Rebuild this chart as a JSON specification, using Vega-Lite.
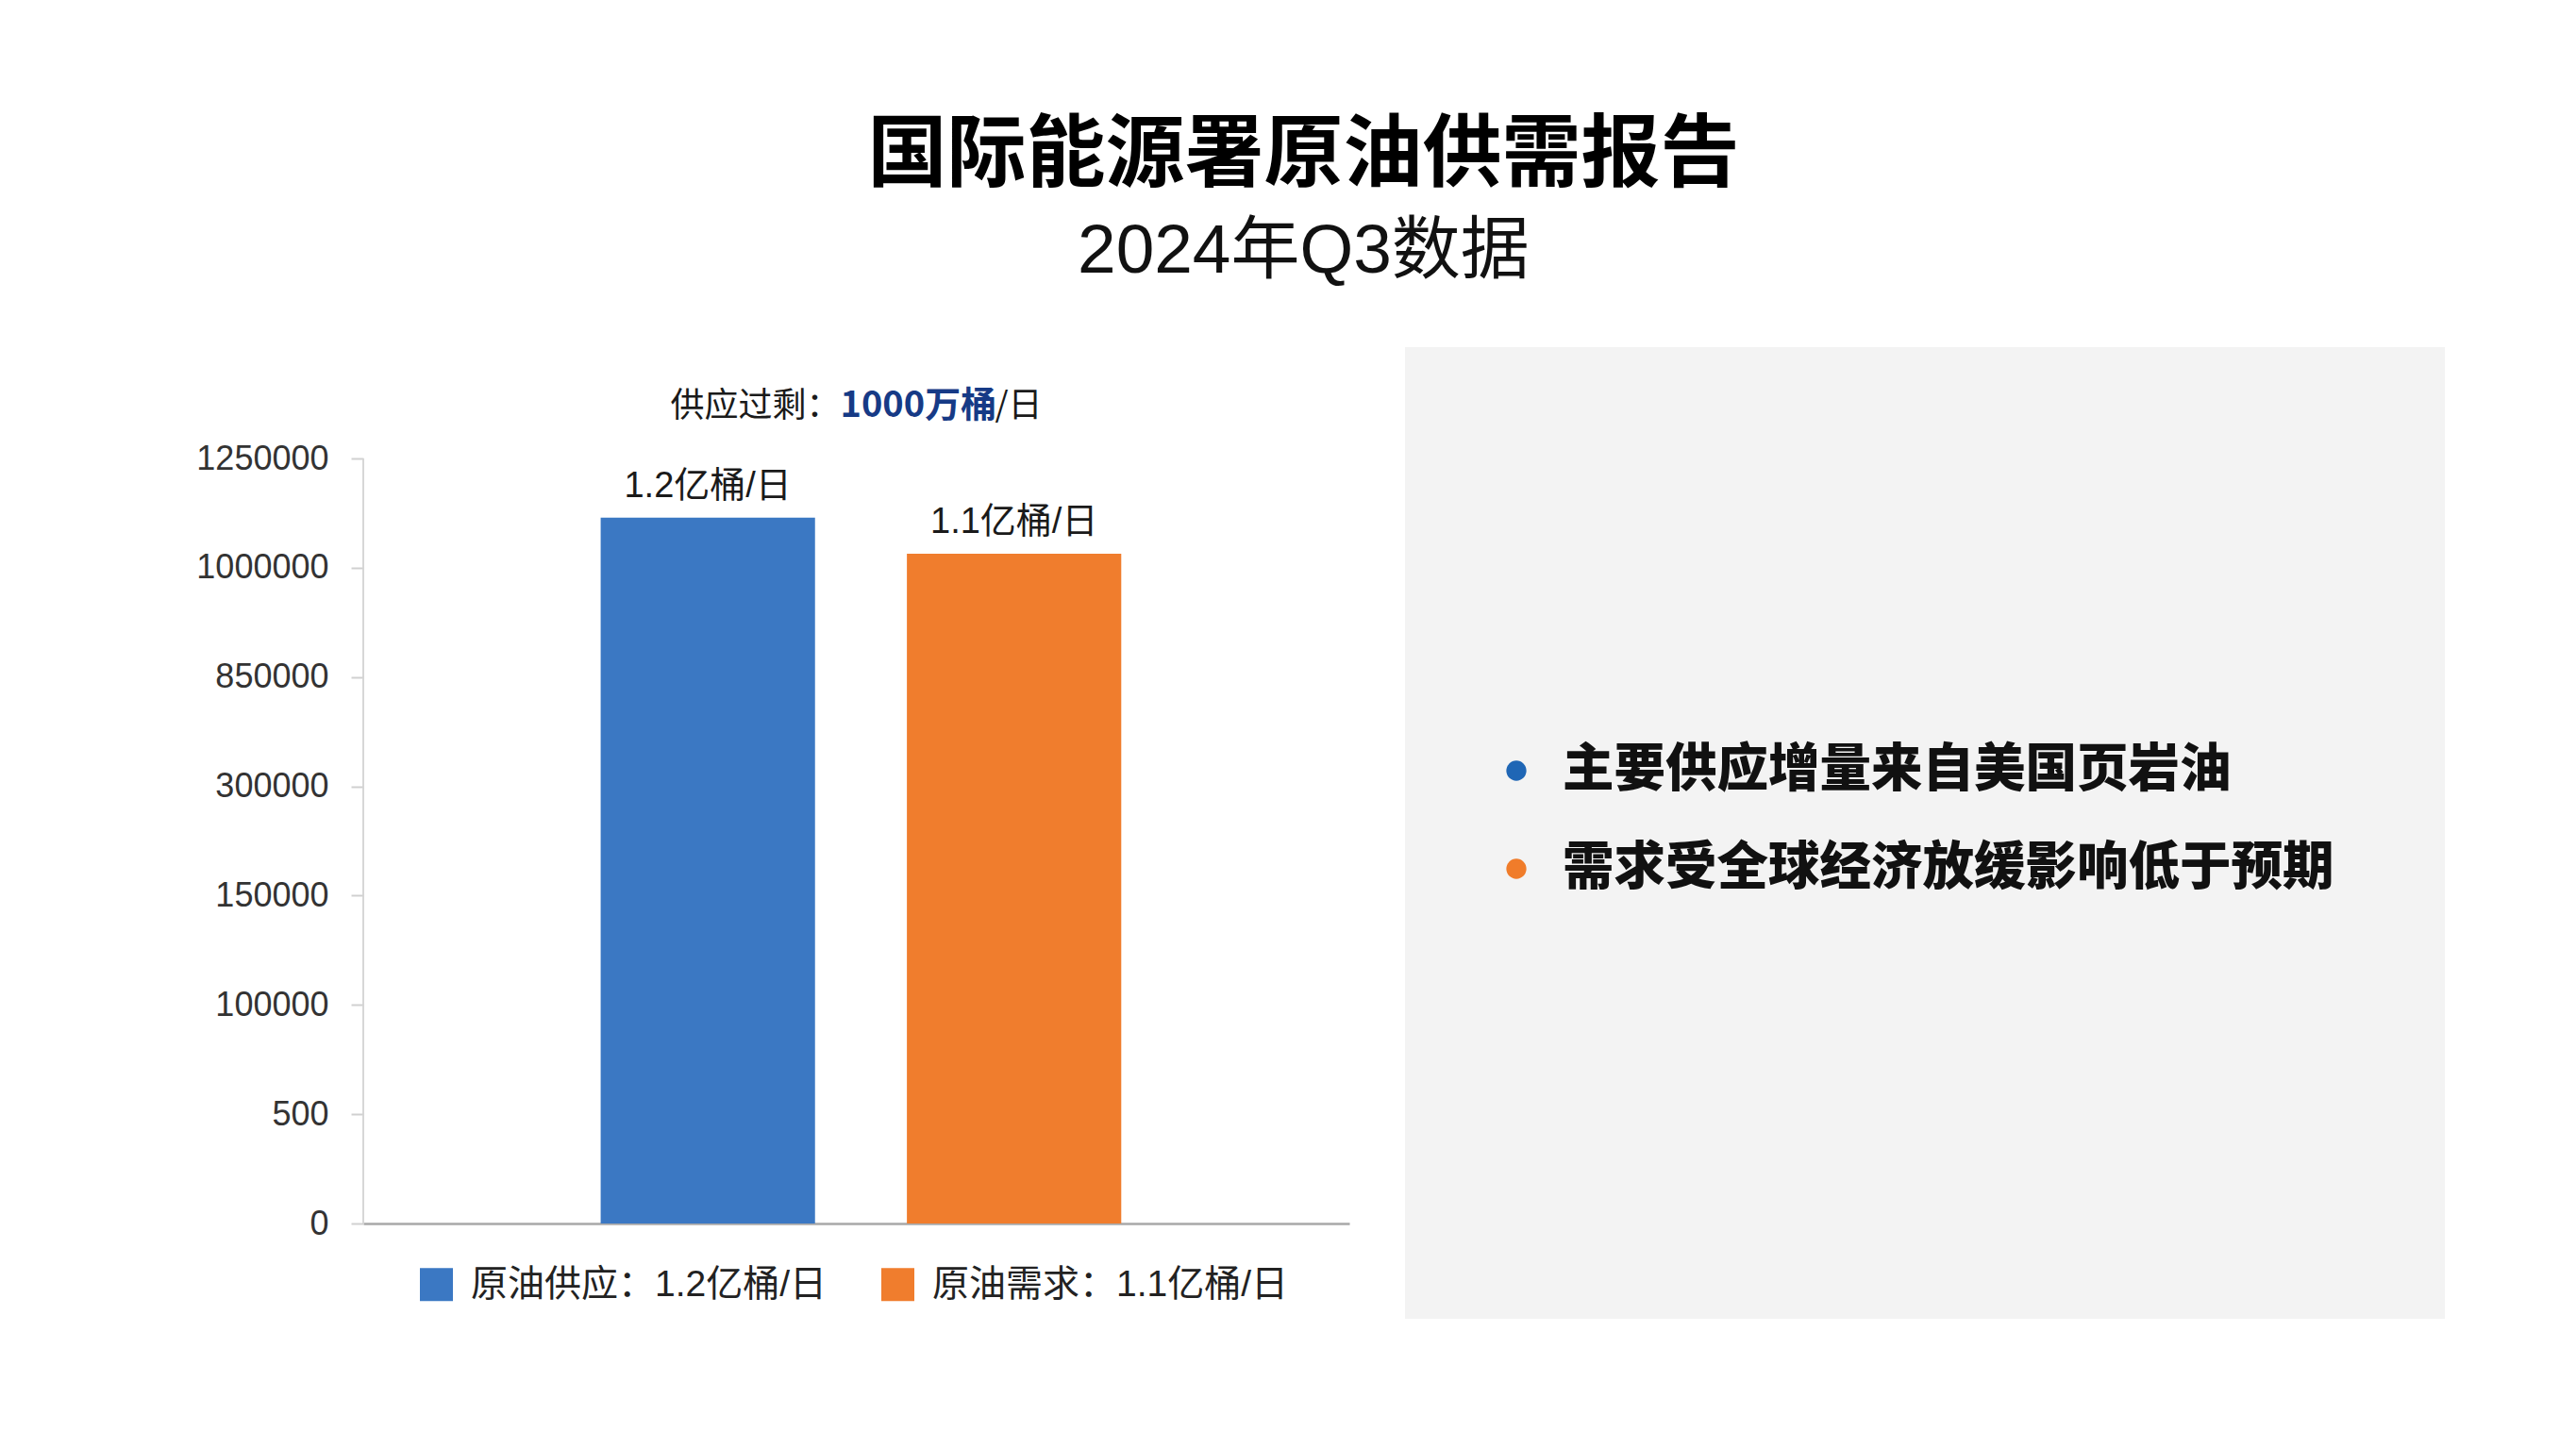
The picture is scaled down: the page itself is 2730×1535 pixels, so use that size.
{
  "$schema": "https://vega.github.io/schema/vega-lite/v6.json",
  "background": "#ffffff",
  "padding": {"left": 207, "top": 124, "right": 0, "bottom": 0},
  "title": {
    "text": "国际能源署原油供需报告",
    "subtitle": "2024年Q3数据",
    "font": "Noto Sans CJK SC",
    "subtitleFont": "Liberation Sans, Noto Sans CJK SC",
    "fontSize": 84,
    "fontWeight": "bold",
    "color": "#000000",
    "subtitleFontSize": 73,
    "subtitleColor": "#111111",
    "subtitlePadding": 22,
    "anchor": "middle",
    "dx": -18,
    "offset": 63
  },
  "spacing": 59,
  "resolve": {"scale": {"color": "independent"}, "legend": {"color": "independent"}},
  "hconcat": [
    {
      "width": 1045,
      "height": 929,
      "data": {
        "values": [
          {"category": "原油供应", "axis_pos": 6.46, "label": "1.2亿桶/日", "legend": "原油供应：1.2亿桶/日"},
          {"category": "原油需求", "axis_pos": 6.13, "label": "1.1亿桶/日", "legend": "原油需求：1.1亿桶/日"}
        ]
      },
      "layer": [
        {
          "mark": {"type": "rule", "color": "#d4d4d4", "strokeWidth": 1.5},
          "encoding": {
            "x": {"value": 0},
            "y": {"datum": 0, "type": "quantitative"},
            "y2": {"datum": 7}
          }
        },
        {
          "mark": {"type": "bar"},
          "encoding": {
            "x": {
              "field": "category",
              "type": "nominal",
              "sort": null,
              "scale": {"paddingInner": 0.3, "paddingOuter": 0.76, "align": 0.51},
              "axis": {"title": null, "labels": false, "ticks": false, "domainColor": "#a8a8a8", "domainWidth": 2.5}
            },
            "y": {
              "field": "axis_pos",
              "type": "quantitative",
              "scale": {"domain": [0, 8.02], "nice": false, "zero": true},
              "axis": {
                "title": null,
                "values": [0, 1, 2, 3, 4, 5, 6, 7],
                "labelExpr": "['0','500','100000','150000','300000','850000','1000000','1250000'][datum.value]",
                "domain": false,
                "gridColor": "#dadada",
                "gridWidth": 2,
                "tickColor": "#d0d0d0",
                "tickWidth": 2,
                "tickSize": 13,
                "labelFontSize": 36,
                "labelColor": "#333333",
                "labelPadding": 24,
                "labelFont": "Liberation Sans"
              }
            },
            "color": {
              "field": "legend",
              "type": "nominal",
              "sort": null,
              "scale": {"range": ["#3b78c3", "#f07d2d"]},
              "legend": {
                "title": null,
                "orient": "none",
                "legendX": 58,
                "legendY": 974,
                "direction": "horizontal",
                "symbolType": "square",
                "symbolSize": 1225,
                "symbolStrokeWidth": 0,
                "labelFont": "Liberation Sans, Noto Sans CJK SC",
                "labelFontSize": 39,
                "labelLimit": 0,
                "labelColor": "#222222",
                "labelOffset": 17,
                "columnPadding": 55
              }
            }
          }
        },
        {
          "mark": {"type": "text", "baseline": "bottom", "dy": -14, "fontSize": 38, "font": "Liberation Sans, Noto Sans CJK SC", "color": "#1a1a1a"},
          "encoding": {
            "x": {"field": "category", "type": "nominal", "sort": null},
            "y": {"field": "axis_pos", "type": "quantitative"},
            "text": {"field": "label"}
          }
        },
        {
          "data": {"values": [{"lead": "供应过剩：", "amount": "1000万桶", "unit": "/日"}]},
          "layer": [
            {
              "mark": {"type": "text", "align": "right", "baseline": "middle", "dx": -17, "fontSize": 36, "color": "#1a1a1a"},
              "encoding": {"y": {"datum": 7.48, "type": "quantitative"}, "text": {"field": "lead"}}
            },
            {
              "mark": {"type": "text", "align": "left", "baseline": "middle", "dx": -17, "fontSize": 38, "fontWeight": "bold", "color": "#163a86"},
              "encoding": {"y": {"datum": 7.48, "type": "quantitative"}, "text": {"field": "amount"}}
            },
            {
              "mark": {"type": "text", "align": "left", "baseline": "middle", "dx": 147, "fontSize": 36, "color": "#1a1a1a"},
              "encoding": {"y": {"datum": 7.48, "type": "quantitative"}, "text": {"field": "unit"}}
            }
          ]
        }
      ]
    },
    {
      "width": 1102,
      "height": 1030,
      "view": {"fill": "#f3f3f3", "stroke": null},
      "data": {
        "values": [
          {"point": "主要供应增量来自美国页岩油", "kind": "供应", "order": 1},
          {"point": "需求受全球经济放缓影响低于预期", "kind": "需求", "order": 2}
        ]
      },
      "encoding": {
        "y": {"field": "order", "type": "ordinal", "scale": {"type": "point", "padding": 0, "range": [449, 553]}, "axis": null},
        "x": {"datum": 0, "type": "quantitative", "scale": {"domain": [0, 1], "range": [118, 1102]}, "axis": null}
      },
      "layer": [
        {
          "mark": {"type": "circle", "size": 452, "opacity": 1},
          "encoding": {
            "color": {"field": "kind", "type": "nominal", "scale": {"domain": ["供应", "需求"], "range": ["#1f66b5", "#f07c2a"]}, "legend": null}
          }
        },
        {
          "mark": {"type": "text", "align": "left", "baseline": "middle", "dx": 49, "fontSize": 54.5, "fontWeight": 900, "color": "#111111"},
          "encoding": {"text": {"field": "point"}}
        }
      ]
    }
  ],
  "config": {
    "font": "Noto Sans CJK SC",
    "view": {"stroke": null}
  }
}
